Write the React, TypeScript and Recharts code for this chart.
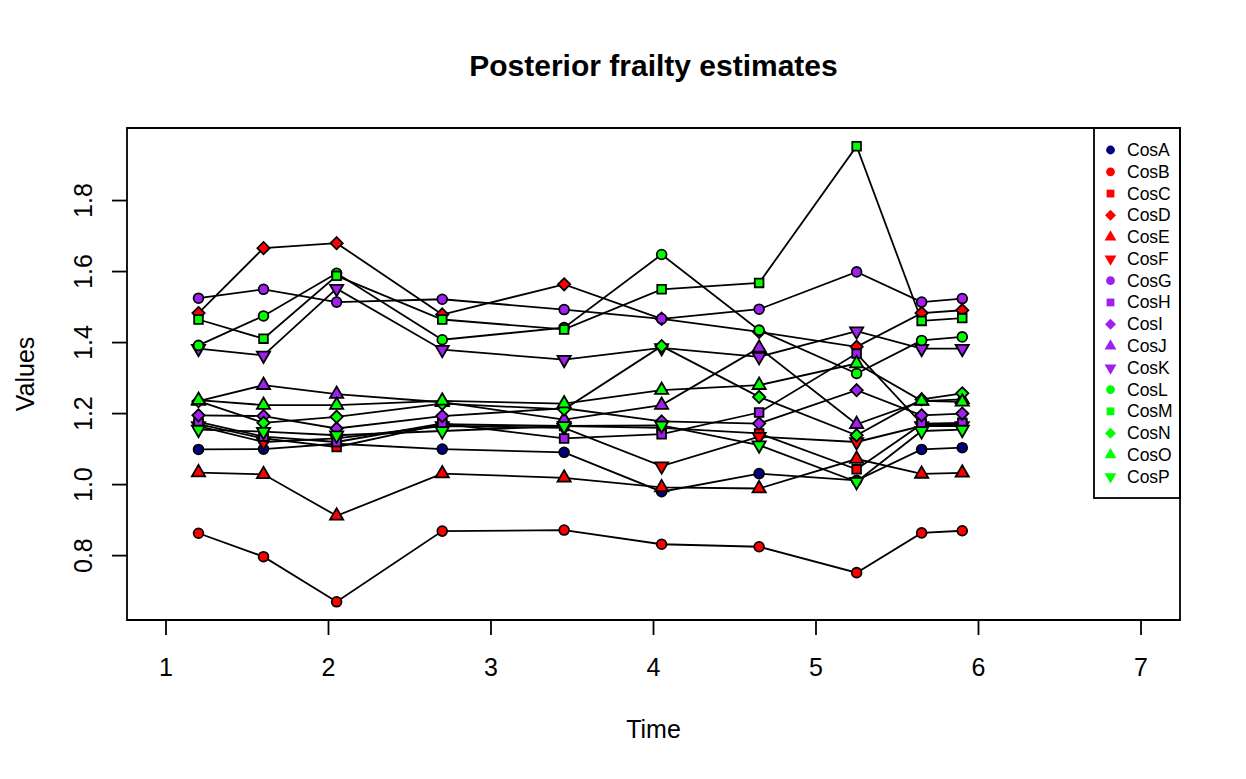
import React from 'react';
import { LineChart, Line, XAxis, YAxis, ReferenceArea, Customized } from 'recharts';

// time points (x) shared by every series
const times = [1.2, 1.6, 2.05, 2.7, 3.45, 4.05, 4.65, 5.25, 5.65, 5.9];

// posterior frailty values per centre
const cosA = [1.099, 1.1, 1.115, 1.1, 1.091, 0.98, 1.031, 1.012, 1.099, 1.104];
const cosB = [0.863, 0.797, 0.67, 0.869, 0.872, 0.832, 0.825, 0.752, 0.864, 0.87];
const cosC = [1.17, 1.13, 1.106, 1.17, 1.165, 1.16, 1.144, 1.043, 1.17, 1.17];
const cosD = [1.483, 1.666, 1.68, 1.479, 1.564, 1.467, 1.43, 1.388, 1.483, 1.491];
const cosE = [1.034, 1.029, 0.912, 1.031, 1.019, 0.992, 0.989, 1.072, 1.03, 1.033];
const cosF = [1.165, 1.12, 1.13, 1.165, 1.16, 1.052, 1.135, 1.12, 1.165, 1.165];
const cosG = [1.525, 1.55, 1.514, 1.522, 1.493, 1.467, 1.494, 1.599, 1.514, 1.524];
const cosH = [1.177, 1.135, 1.12, 1.172, 1.13, 1.142, 1.203, 1.369, 1.172, 1.174];
const cosI = [1.195, 1.193, 1.158, 1.193, 1.215, 1.178, 1.172, 1.266, 1.195, 1.2];
const cosJ = [1.235, 1.28, 1.255, 1.232, 1.183, 1.224, 1.385, 1.17, 1.235, 1.24];
const cosK = [1.383, 1.364, 1.552, 1.38, 1.352, 1.385, 1.36, 1.432, 1.383, 1.383];
const cosL = [1.392, 1.475, 1.595, 1.408, 1.442, 1.648, 1.435, 1.313, 1.406, 1.416];
const cosM = [1.465, 1.411, 1.588, 1.465, 1.437, 1.55, 1.568, 1.953, 1.461, 1.469];
const cosN = [1.235, 1.174, 1.191, 1.228, 1.212, 1.39, 1.247, 1.139, 1.24, 1.257];
const cosO = [1.238, 1.224, 1.224, 1.236, 1.228, 1.266, 1.28, 1.341, 1.236, 1.233];
const cosP = [1.155, 1.149, 1.139, 1.151, 1.165, 1.167, 1.111, 1.008, 1.151, 1.155];

const seriesNames = ['CosA', 'CosB', 'CosC', 'CosD', 'CosE', 'CosF', 'CosG', 'CosH',
  'CosI', 'CosJ', 'CosK', 'CosL', 'CosM', 'CosN', 'CosO', 'CosP'];
const seriesValues = [cosA, cosB, cosC, cosD, cosE, cosF, cosG, cosH,
  cosI, cosJ, cosK, cosL, cosM, cosN, cosO, cosP];

const xTicks = [1, 2, 3, 4, 5, 6, 7];
const yTicks = [0.8, 1.0, 1.2, 1.4, 1.6, 1.8];

// styling
const NAVY = '#000080';
const RED = '#ff0000';
const PURPLE = '#a020f0';
const GREEN = '#00ff00';
const colors = [NAVY, RED, RED, RED, RED, RED, PURPLE, PURPLE, PURPLE, PURPLE, PURPLE,
  GREEN, GREEN, GREEN, GREEN, GREEN];
const shapes = ['circle', 'circle', 'square', 'diamond', 'up', 'down', 'circle', 'square',
  'diamond', 'up', 'down', 'circle', 'square', 'diamond', 'up', 'down'];

const FONT = '"Liberation Sans", Arial, Helvetica, sans-serif';
const LW = 1.8;

const W = 1246;
const H = 779;
const PLOT_L = 127;
const PLOT_T = 128;
const PLOT_R = 1180;
const PLOT_B = 620;

// data rows for recharts
const rows = times.map((t, i) => {
  const r: any = { t };
  seriesNames.forEach((n, j) => { r[n] = seriesValues[j][i]; });
  return r;
});

// R-style 4% axis extension
const ext = (lo: number, hi: number) => {
  const d = (hi - lo) * 0.04;
  return [lo - d, hi + d];
};
const allVals = seriesValues.flat();
const xDomain = ext(1, 7);
const yDomain = ext(Math.min(...allVals), Math.max(...allVals));

function shapePath(shape: string, cx: number, cy: number, rad: number) {
  if (shape === 'square') {
    const h = rad * 0.886;
    return `M${cx - h},${cy - h}H${cx + h}V${cy + h}H${cx - h}Z`;
  }
  if (shape === 'diamond') {
    const h = rad * 1.253;
    return `M${cx},${cy - h}L${cx + h},${cy}L${cx},${cy + h}L${cx - h},${cy}Z`;
  }
  if (shape === 'up' || shape === 'down') {
    const r = rad * 1.555;
    const yc = r * 0.5;
    const xc = r * 0.866;
    const s = shape === 'up' ? 1 : -1;
    return `M${cx},${cy - s * r}L${cx + xc},${cy + s * yc}L${cx - xc},${cy + s * yc}Z`;
  }
  return '';
}

function Marker({ cx, cy, shape, fill, rad, stroke }: any) {
  if (cx == null || cy == null) return null;
  if (shape === 'circle') {
    return <circle cx={cx} cy={cy} r={rad} fill={fill} stroke={stroke} strokeWidth={stroke === 'none' ? 0 : LW} />;
  }
  return <path d={shapePath(shape, cx, cy, rad)} fill={fill} stroke={stroke} strokeWidth={stroke === 'none' ? 0 : LW} strokeLinejoin="miter" />;
}

const XTick = ({ x, y, payload }: any) => (
  <text x={x} y={y + 41} textAnchor="middle" fontSize={25} fill="#000" fontFamily={FONT}>
    {payload.value}
  </text>
);

const YTick = ({ x, y, payload }: any) => {
  const bx = x - 20;
  return (
    <text x={bx} y={y} textAnchor="middle" fontSize={25} fill="#000" fontFamily={FONT}
      transform={`rotate(-90 ${bx} ${y})`}>
      {Number(payload.value).toFixed(1)}
    </text>
  );
};

// title, axis titles and legend
const Overlay = () => {
  const lx = 1094;
  const rowY0 = 150;
  const rowStep = 21.78;
  return (
    <g fontFamily={FONT}>
      <text x={(PLOT_L + PLOT_R) / 2} y={76} textAnchor="middle" fontSize={30} fontWeight="bold" fill="#000">
        Posterior frailty estimates
      </text>
      <text x={(PLOT_L + PLOT_R) / 2} y={738} textAnchor="middle" fontSize={25} fill="#000">
        Time
      </text>
      <text x={34} y={(PLOT_T + PLOT_B) / 2} textAnchor="middle" fontSize={25} fill="#000"
        transform={`rotate(-90 34 ${(PLOT_T + PLOT_B) / 2})`}>
        Values
      </text>
      <rect x={lx} y={PLOT_T} width={PLOT_R - lx} height={498 - PLOT_T} fill="#fff" stroke="#000" strokeWidth={LW} />
      {seriesNames.map((n, i) => {
        const cy = rowY0 + i * rowStep;
        return (
          <g key={n}>
            <Marker cx={1110.5} cy={cy} shape={shapes[i]} fill={colors[i]} rad={4.4} stroke="none" />
            <text x={1127} y={cy + 6} fontSize={17.5} fill="#000">{n}</text>
          </g>
        );
      })}
    </g>
  );
};

export default function App() {
  return (
    <div style={{ position: 'absolute', left: 0, top: 0, background: '#fff' }}>
      <LineChart
        width={W}
        height={H}
        data={rows}
        margin={{ top: PLOT_T, right: W - PLOT_R, bottom: 0, left: 0 }}
        style={{ fontFamily: FONT }}
      >
        <XAxis
          type="number"
          dataKey="t"
          domain={xDomain}
          ticks={xTicks}
          interval={0}
          allowDataOverflow
          height={H - PLOT_B}
          axisLine={false}
          tickSize={15}
          tickMargin={0}
          stroke="#000"
          tickLine={{ stroke: '#000', strokeWidth: LW }}
          tick={<XTick />}
        />
        <YAxis
          type="number"
          domain={yDomain}
          ticks={yTicks}
          interval={0}
          allowDataOverflow
          width={PLOT_L}
          axisLine={false}
          tickSize={15}
          tickMargin={0}
          stroke="#000"
          tickLine={{ stroke: '#000', strokeWidth: LW }}
          tick={<YTick />}
        />
        <ReferenceArea
          x1={xDomain[0]}
          x2={xDomain[1]}
          y1={yDomain[0]}
          y2={yDomain[1]}
          fill="none"
          fillOpacity={0}
          stroke="#000"
          strokeWidth={LW}
          ifOverflow="visible"
        />
        {seriesNames.map((n, i) => (
          <Line
            key={n}
            type="linear"
            dataKey={n}
            stroke="#000"
            strokeWidth={LW}
            isAnimationActive={false}
            activeDot={false}
            dot={(p: any) => (
              <Marker key={`${n}-${p.index}`} cx={p.cx} cy={p.cy} shape={shapes[i]}
                fill={colors[i]} rad={4.9} stroke="#000" />
            )}
          />
        ))}
        <Customized component={<Overlay />} />
      </LineChart>
    </div>
  );
}
